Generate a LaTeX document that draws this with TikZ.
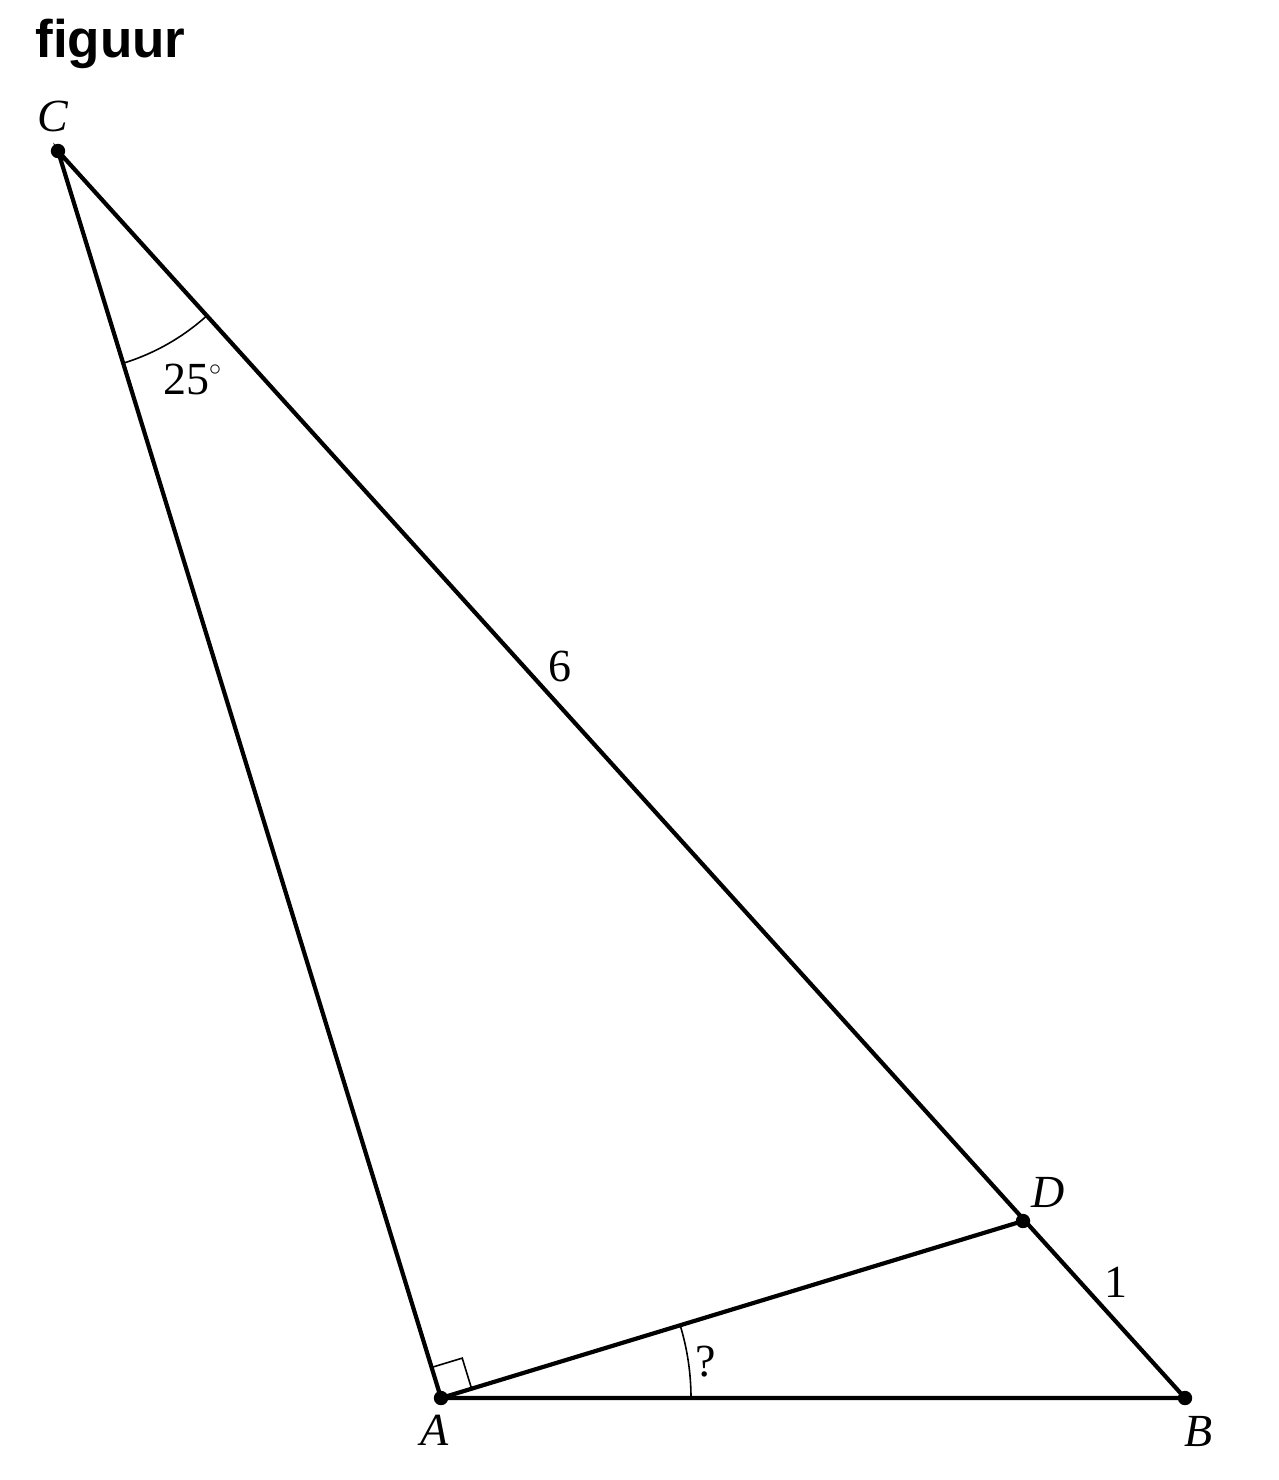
\documentclass[tikz,border=0pt]{standalone}
\usepackage{fontspec}
\setmainfont{Liberation Serif}
\newfontfamily\titlefont{Liberation Sans}
\usetikzlibrary{angles}
\newcommand{\degr}{\raisebox{9.5pt}{\fontsize{12}{12}\selectfont$\circ$}}

\begin{document}
\begin{tikzpicture}[x=0.5pt, y=-0.5pt]
	\tikzset{
		side/.style={line width=2.1pt, line cap=round},
		anglemark/.style={draw, line width=0.8pt},
		dot/.style={fill=black},
		lbl/.style={inner sep=0pt, font=\fontsize{23}{27}\selectfont},
	}
	\useasboundingbox (0,0) rectangle (1279,1480);

	\node[anchor=base west, inner sep=0pt, font=\titlefont\bfseries\fontsize{26.5}{30}\selectfont] (title) at (35,57) {figuur};

	\coordinate (C) at (58,151);
	\coordinate (A) at (441,1398);
	\coordinate (B) at (1185,1398);
	\coordinate (D) at (1023,1221);

	\draw[side] (A) -- (B) -- (C) -- cycle;
	\draw[side] (A) -- (D);

	\path pic[anglemark, angle radius=111pt] {angle = A--C--B};
	\path pic[anglemark, angle radius=125pt] {angle = B--A--D};
	\path pic[anglemark, angle radius=16pt] {right angle = C--A--D};

	\foreach \p in {A, B, C, D}
		\fill[dot] (\p) circle (3.6pt);

	\node[lbl] (lC) at (53,116) {\textit{C}};
	\node[lbl] (lA) at (435,1430) {\textit{A}};
	\node[lbl] (lB) at (1199,1431) {\textit{B}};
	\node[lbl] (lD) at (1048,1192) {\textit{D}};
	\node[lbl] (l25) at (192,379) {25\degr};
	\node[lbl] (l6) at (560,666) {6};
	\node[lbl] (l1) at (1116,1282) {1};
	\node[lbl] (lq) at (706,1362) {?};
\end{tikzpicture}
\end{document}
